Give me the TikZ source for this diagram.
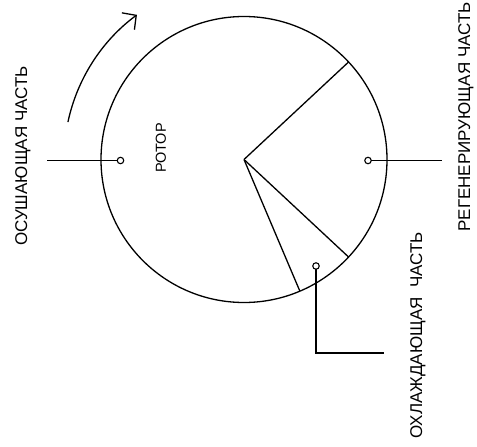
\documentclass[tikz,border=0pt]{standalone}
\usepackage{fontspec}
\setmainfont{Liberation Sans}
\usetikzlibrary{arrows.meta}
\begin{document}
\begin{tikzpicture}[x=1pt,y=1pt,line width=1.3pt,
  rotorcircle/.style={circle,draw,inner sep=0pt,outer sep=0pt,minimum size=286pt},
  port/.style={circle,draw,line width=1.1pt,inner sep=0pt,outer sep=0pt,minimum size=6.5pt,fill=white},
  lbl/.style={rotate=90,font=\fontsize{17}{17}\selectfont,inner sep=0pt}]
\useasboundingbox (0,-447) rectangle (477,0);
\node[rotorcircle] (rot) at (244,-159.5) {};
\coordinate (c) at (244,-159.5);
% sector lines
\draw (c) -- (rot.43.6);
\draw (c) -- (rot.-43);
\draw (c) -- (rot.-67.7);
% ports and leads
\node[port] (pl) at (120.5,-160.5) {};
\node[port] (pr) at (368,-160.5) {};
\node[port] (pb) at (316,-266) {};
\coordinate (el) at (47,-160.5);
\coordinate (er) at (442,-160.5);
\coordinate (eb) at (384,-353);
\draw (el) -- (pl.west);
\draw (pr.east) -- (er);
\draw (pb.south) |- (eb);
% rotation arrow
\draw[-{Straight Barb[length=10pt,width=21pt]}] (c) ++(168:180) arc[start angle=168,end angle=126.5,radius=180];
% labels
\node[lbl] (t1) at (23,-156) {ОСУШАЮЩАЯ ЧАСТЬ};
\node[lbl,font=\fontsize{14.5}{14.5}\selectfont] (t2) at (161,-148) {РОТОР};
\node[lbl] (t3) at (466,-117) {РЕГЕНЕРИРУЮЩАЯ ЧАСТЬ};
\node[lbl] (t4) at (418,-335.5) {ОХЛАЖДАЮЩАЯ\ \ ЧАСТЬ};
\end{tikzpicture}
\end{document}
